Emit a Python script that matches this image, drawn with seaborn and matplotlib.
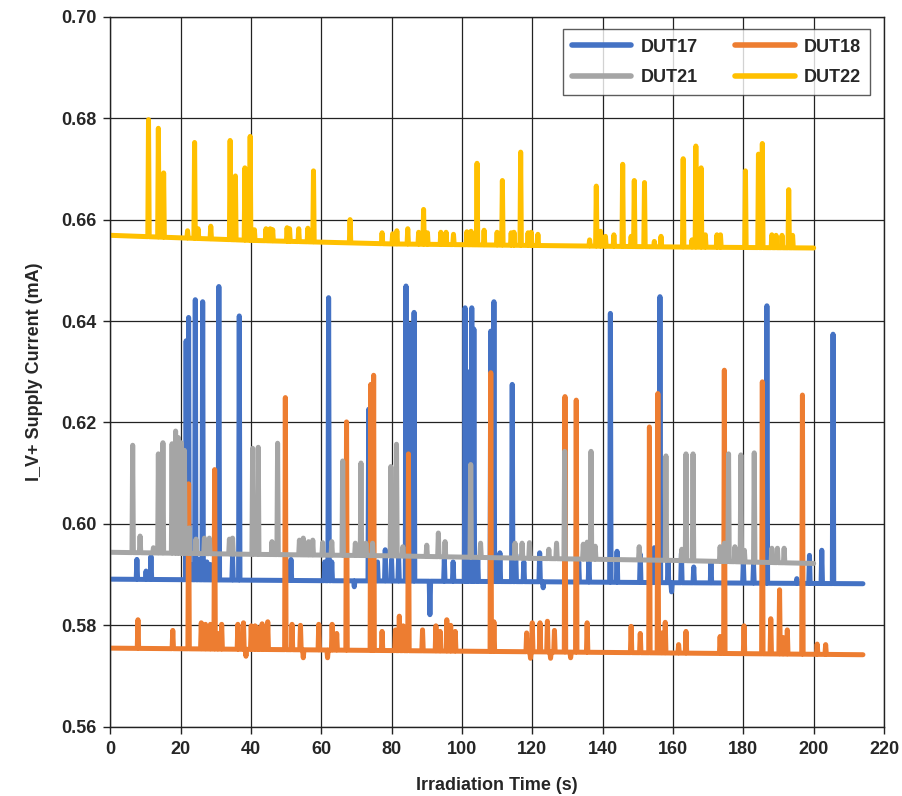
import numpy as np
import pandas as pd
import seaborn as sns
import matplotlib.pyplot as plt

# ---------------- data ----------------
# slowly drifting baseline of each device (time s, current mA)
dut17_base_t = [0, 60, 120, 160, 214]
dut17_base_v = [0.5891, 0.5888, 0.5886, 0.5884, 0.5882]
dut18_base_t = [0, 50, 100, 150, 214]
dut18_base_v = [0.5755, 0.5752, 0.5749, 0.5746, 0.5742]
dut21_base_t = [0, 40, 80, 120, 160, 200]
dut21_base_v = [0.5944, 0.5940, 0.5937, 0.5932, 0.5928, 0.5922]
dut22_base_t = [0, 40, 80, 120, 160, 200]
dut22_base_v = [0.6569, 0.6559, 0.6552, 0.6549, 0.6546, 0.6544]

# transient events (time s, peak mA)
dut17_spk_t = [7.6, 10.2, 11.6, 21.6, 22.3, 23.2, 24.2, 25.2, 26.3, 27.5, 28.5, 30.9,
               34.8, 36.7, 51.4, 61.0, 62.1, 63.0, 69.4, 73.5, 76.0, 78.2, 80.0, 82.0,
               84.1, 85.3, 86.4, 90.9, 95.0, 97.5, 100.9, 101.6, 102.8, 103.4, 104.5,
               108.2, 109.1, 110.8, 114.3, 115.3, 117.6, 122.1, 123.1, 133.2, 136.1,
               142.2, 144.1, 150.7, 154.7, 156.3, 158.6, 159.6, 162.4, 165.9, 170.8,
               180.0, 182.9, 186.7, 195.2, 198.8, 202.3, 205.5]
dut17_spk_v = [0.5930, 0.5907, 0.5936, 0.6361, 0.6407, 0.5920, 0.6442, 0.5930, 0.6438, 0.5925, 0.5920, 0.6468,
               0.5936, 0.6410, 0.5930, 0.5925, 0.6446, 0.5925, 0.5876, 0.6226, 0.5925, 0.5949, 0.5930, 0.5935,
               0.6469, 0.6393, 0.6417, 0.5821, 0.5930, 0.5925, 0.6426, 0.6300, 0.6426, 0.6384, 0.5930,
               0.6380, 0.6438, 0.5943, 0.6275, 0.5940, 0.5925, 0.5943, 0.5874, 0.5925, 0.5930,
               0.6415, 0.5946, 0.5940, 0.5953, 0.6448, 0.5925, 0.5866, 0.5942, 0.5915, 0.5925,
               0.5925, 0.5920, 0.6430, 0.5892, 0.5938, 0.5948, 0.6374]

dut18_spk_t = [7.9, 17.8, 22.3, 25.9, 27.1, 28.5, 29.7, 30.6, 31.7, 36.3, 37.9, 38.6,
               40.1, 41.2, 42.1, 43.2, 44.8, 49.8, 51.7, 54.1, 54.9, 59.3, 61.8, 63.1,
               64.4, 67.2, 74.1, 74.9, 77.3, 81.1, 82.2, 83.3, 84.8, 88.8, 92.6, 93.8,
               95.7, 96.8, 98.1, 108.2, 109.1, 118.4, 119.5, 120.0, 122.2, 124.3, 125.2,
               126.3, 129.3, 130.9, 132.5, 135.6, 148.1, 150.7, 153.3, 155.7, 156.8,
               157.8, 161.6, 163.7, 173.4, 174.6, 180.2, 185.4, 187.8, 190.3, 191.3,
               192.5, 196.8, 201.0, 203.4]
dut18_spk_v = [0.5811, 0.5790, 0.6079, 0.5805, 0.5802, 0.5802, 0.6107, 0.5784, 0.5802, 0.5802, 0.5805, 0.5739,
               0.5799, 0.5799, 0.5795, 0.5803, 0.5807, 0.6249, 0.5802, 0.5800, 0.5736, 0.5802, 0.5736, 0.5802,
               0.5784, 0.6201, 0.6275, 0.6293, 0.5788, 0.5791, 0.5818, 0.5799, 0.6138, 0.5791, 0.5799, 0.5788,
               0.5811, 0.5800, 0.5788, 0.6298, 0.5807, 0.5785, 0.5735, 0.5805, 0.5805, 0.5808, 0.5735,
               0.5790, 0.6251, 0.5736, 0.6244, 0.5805, 0.5798, 0.5784, 0.6191, 0.6257, 0.5785,
               0.5806, 0.5762, 0.5788, 0.5778, 0.6303, 0.5799, 0.6280, 0.5813, 0.5870, 0.5776,
               0.5791, 0.6254, 0.5763, 0.5762]

dut21_spk_t = [6.4, 8.5, 12.3, 13.7, 15.0, 17.6, 18.6, 19.4, 20.2, 21.1, 22.5, 24.4,
               26.8, 28.2, 33.9, 34.8, 40.5, 42.1, 46.0, 47.6, 53.8, 54.9, 56.4, 57.6,
               60.4, 63.0, 66.1, 69.7, 71.3, 72.7, 74.6, 79.8, 81.4, 83.2, 90.0, 93.3,
               95.2, 102.5, 105.3, 115.1, 117.1, 119.2, 124.7, 126.9, 129.2, 134.5, 135.6,
               136.7, 137.9, 150.4, 158.0, 162.5, 163.7, 165.7, 173.4, 174.6, 175.8,
               177.6, 179.3, 180.3, 183.1, 188.1, 189.7, 191.6]
dut21_spk_v = [0.6155, 0.5976, 0.5953, 0.6138, 0.6160, 0.6158, 0.6183, 0.6170, 0.6160, 0.6145, 0.5992, 0.5970,
               0.5972, 0.5972, 0.5970, 0.5972, 0.6149, 0.6151, 0.5965, 0.6159, 0.5968, 0.5972, 0.5965, 0.5968,
               0.5963, 0.5965, 0.6124, 0.5962, 0.6120, 0.5962, 0.5962, 0.6113, 0.6157, 0.5955, 0.5958, 0.5982,
               0.5965, 0.6117, 0.5962, 0.5962, 0.5962, 0.5963, 0.5950, 0.5962, 0.6143, 0.5960, 0.5964,
               0.6143, 0.5956, 0.5955, 0.6134, 0.5950, 0.6138, 0.6138, 0.5955, 0.5962, 0.6138,
               0.5955, 0.6136, 0.5948, 0.6140, 0.5952, 0.5952, 0.5952]

dut22_spk_t = [10.9, 13.7, 15.2, 22.0, 24.0, 25.0, 28.6, 34.1, 35.6, 38.3, 39.8, 41.0,
               44.3, 45.5, 46.2, 50.3, 51.0, 53.6, 56.2, 57.8, 68.2, 77.3, 80.3, 81.5,
               84.6, 87.7, 89.1, 90.2, 94.0, 95.5, 97.6, 101.4, 102.6, 104.3, 106.3,
               110.0, 111.5, 114.0, 114.8, 116.7, 118.8, 119.7, 121.6, 136.3, 138.2,
               139.4, 140.8, 143.2, 145.7, 148.1, 149.0, 151.9, 154.7, 156.6, 162.9,
               165.4, 166.5, 168.0, 169.2, 172.5, 173.5, 180.6, 184.3, 185.4, 188.1,
               189.3, 191.0, 192.9, 194.0]
dut22_spk_v = [0.6797, 0.6780, 0.6692, 0.6578, 0.6752, 0.6582, 0.6587, 0.6756, 0.6686, 0.6702, 0.6764, 0.6580,
               0.6582, 0.6582, 0.6580, 0.6584, 0.6582, 0.6582, 0.6583, 0.6696, 0.6600, 0.6574, 0.6572, 0.6578,
               0.6582, 0.6575, 0.6620, 0.6574, 0.6575, 0.6575, 0.6571, 0.6576, 0.6577, 0.6711, 0.6579,
               0.6575, 0.6677, 0.6574, 0.6575, 0.6733, 0.6574, 0.6575, 0.6571, 0.6560, 0.6666,
               0.6577, 0.6567, 0.6570, 0.6709, 0.6567, 0.6677, 0.6673, 0.6557, 0.6567, 0.6720,
               0.6560, 0.6745, 0.6702, 0.6570, 0.6570, 0.6570, 0.6696, 0.6729, 0.6750, 0.6570,
               0.6569, 0.6569, 0.6659, 0.6569]

series_names = ["DUT17", "DUT18", "DUT21", "DUT22"]
colors = ["#4472C4", "#ED7D31", "#A5A5A5", "#FFC000"]


# each spike is one narrow sample sitting on the baseline
def build(name, base_t, base_v, spk_t, spk_v, hw=0.2):
    st = np.array(spk_t)
    xs = np.concatenate([base_t, st - hw, st, st + hw])
    ys = np.concatenate([base_v, np.interp(st - hw, base_t, base_v), spk_v,
                         np.interp(st + hw, base_t, base_v)])
    order = np.argsort(xs, kind="stable")
    return pd.DataFrame({"time": xs[order], "current": ys[order], "device": name})


df = pd.concat([
    build("DUT17", dut17_base_t, dut17_base_v, dut17_spk_t, dut17_spk_v),
    build("DUT18", dut18_base_t, dut18_base_v, dut18_spk_t, dut18_spk_v),
    build("DUT21", dut21_base_t, dut21_base_v, dut21_spk_t, dut21_spk_v),
    build("DUT22", dut22_base_t, dut22_base_v, dut22_spk_t, dut22_spk_v),
], ignore_index=True)

# ---------------- plot ----------------
sns.set_style("white")
plt.rcParams['font.family'] = ['Liberation Sans', 'DejaVu Sans']
plt.rcParams['font.weight'] = 'bold'

fig = plt.figure(figsize=(9.03, 7.96), dpi=100)
ax = fig.add_axes([0.122, 0.087, 0.857, 0.892])

sns.lineplot(data=df, x="time", y="current", hue="device", hue_order=series_names,
             palette=colors, estimator=None, sort=False, linewidth=3.6,
             solid_joinstyle="round", solid_capstyle="round", ax=ax)

ax.set_xlim(0, 220)
ax.set_ylim(0.56, 0.70)
ax.set_xticks(np.arange(0, 221, 20))
ax.set_yticks(np.arange(0.56, 0.7001, 0.02))
ax.set_yticklabels([f"{v:.2f}" for v in np.arange(0.56, 0.7001, 0.02)])
ax.grid(True, color="#222222", linewidth=0.9)
ax.set_axisbelow(True)
for s in ax.spines.values():
    s.set_color("#222222")
    s.set_linewidth(1.0)
ax.tick_params(axis="both", direction="out", length=5, width=1, color="#222222",
               labelsize=13, bottom=True, left=True, pad=5)
for lab in ax.get_xticklabels() + ax.get_yticklabels():
    lab.set_fontweight("bold")

ax.set_xlabel("Irradiation Time (s)", fontsize=13, fontweight="bold", labelpad=14)
ax.set_ylabel("I_V+ Supply Current (mA)", fontsize=13, fontweight="bold", labelpad=13)

handles, labels = ax.get_legend_handles_labels()
idx = [labels.index(n) for n in ["DUT17", "DUT21", "DUT18", "DUT22"]]
leg = ax.legend([handles[i] for i in idx], [labels[i] for i in idx], ncol=2,
                loc="upper right", bbox_to_anchor=(0.982, 0.982), borderaxespad=0,
                frameon=True, fancybox=False, edgecolor="#333333", handlelength=3.3,
                columnspacing=2.1, borderpad=0.5, labelspacing=0.75,
                handletextpad=0.5, prop={"weight": "bold", "size": 13})
leg.get_frame().set_linewidth(1.0)
for line in leg.get_lines():
    line.set_linewidth(4)

fig.savefig("out.png", dpi=100)
